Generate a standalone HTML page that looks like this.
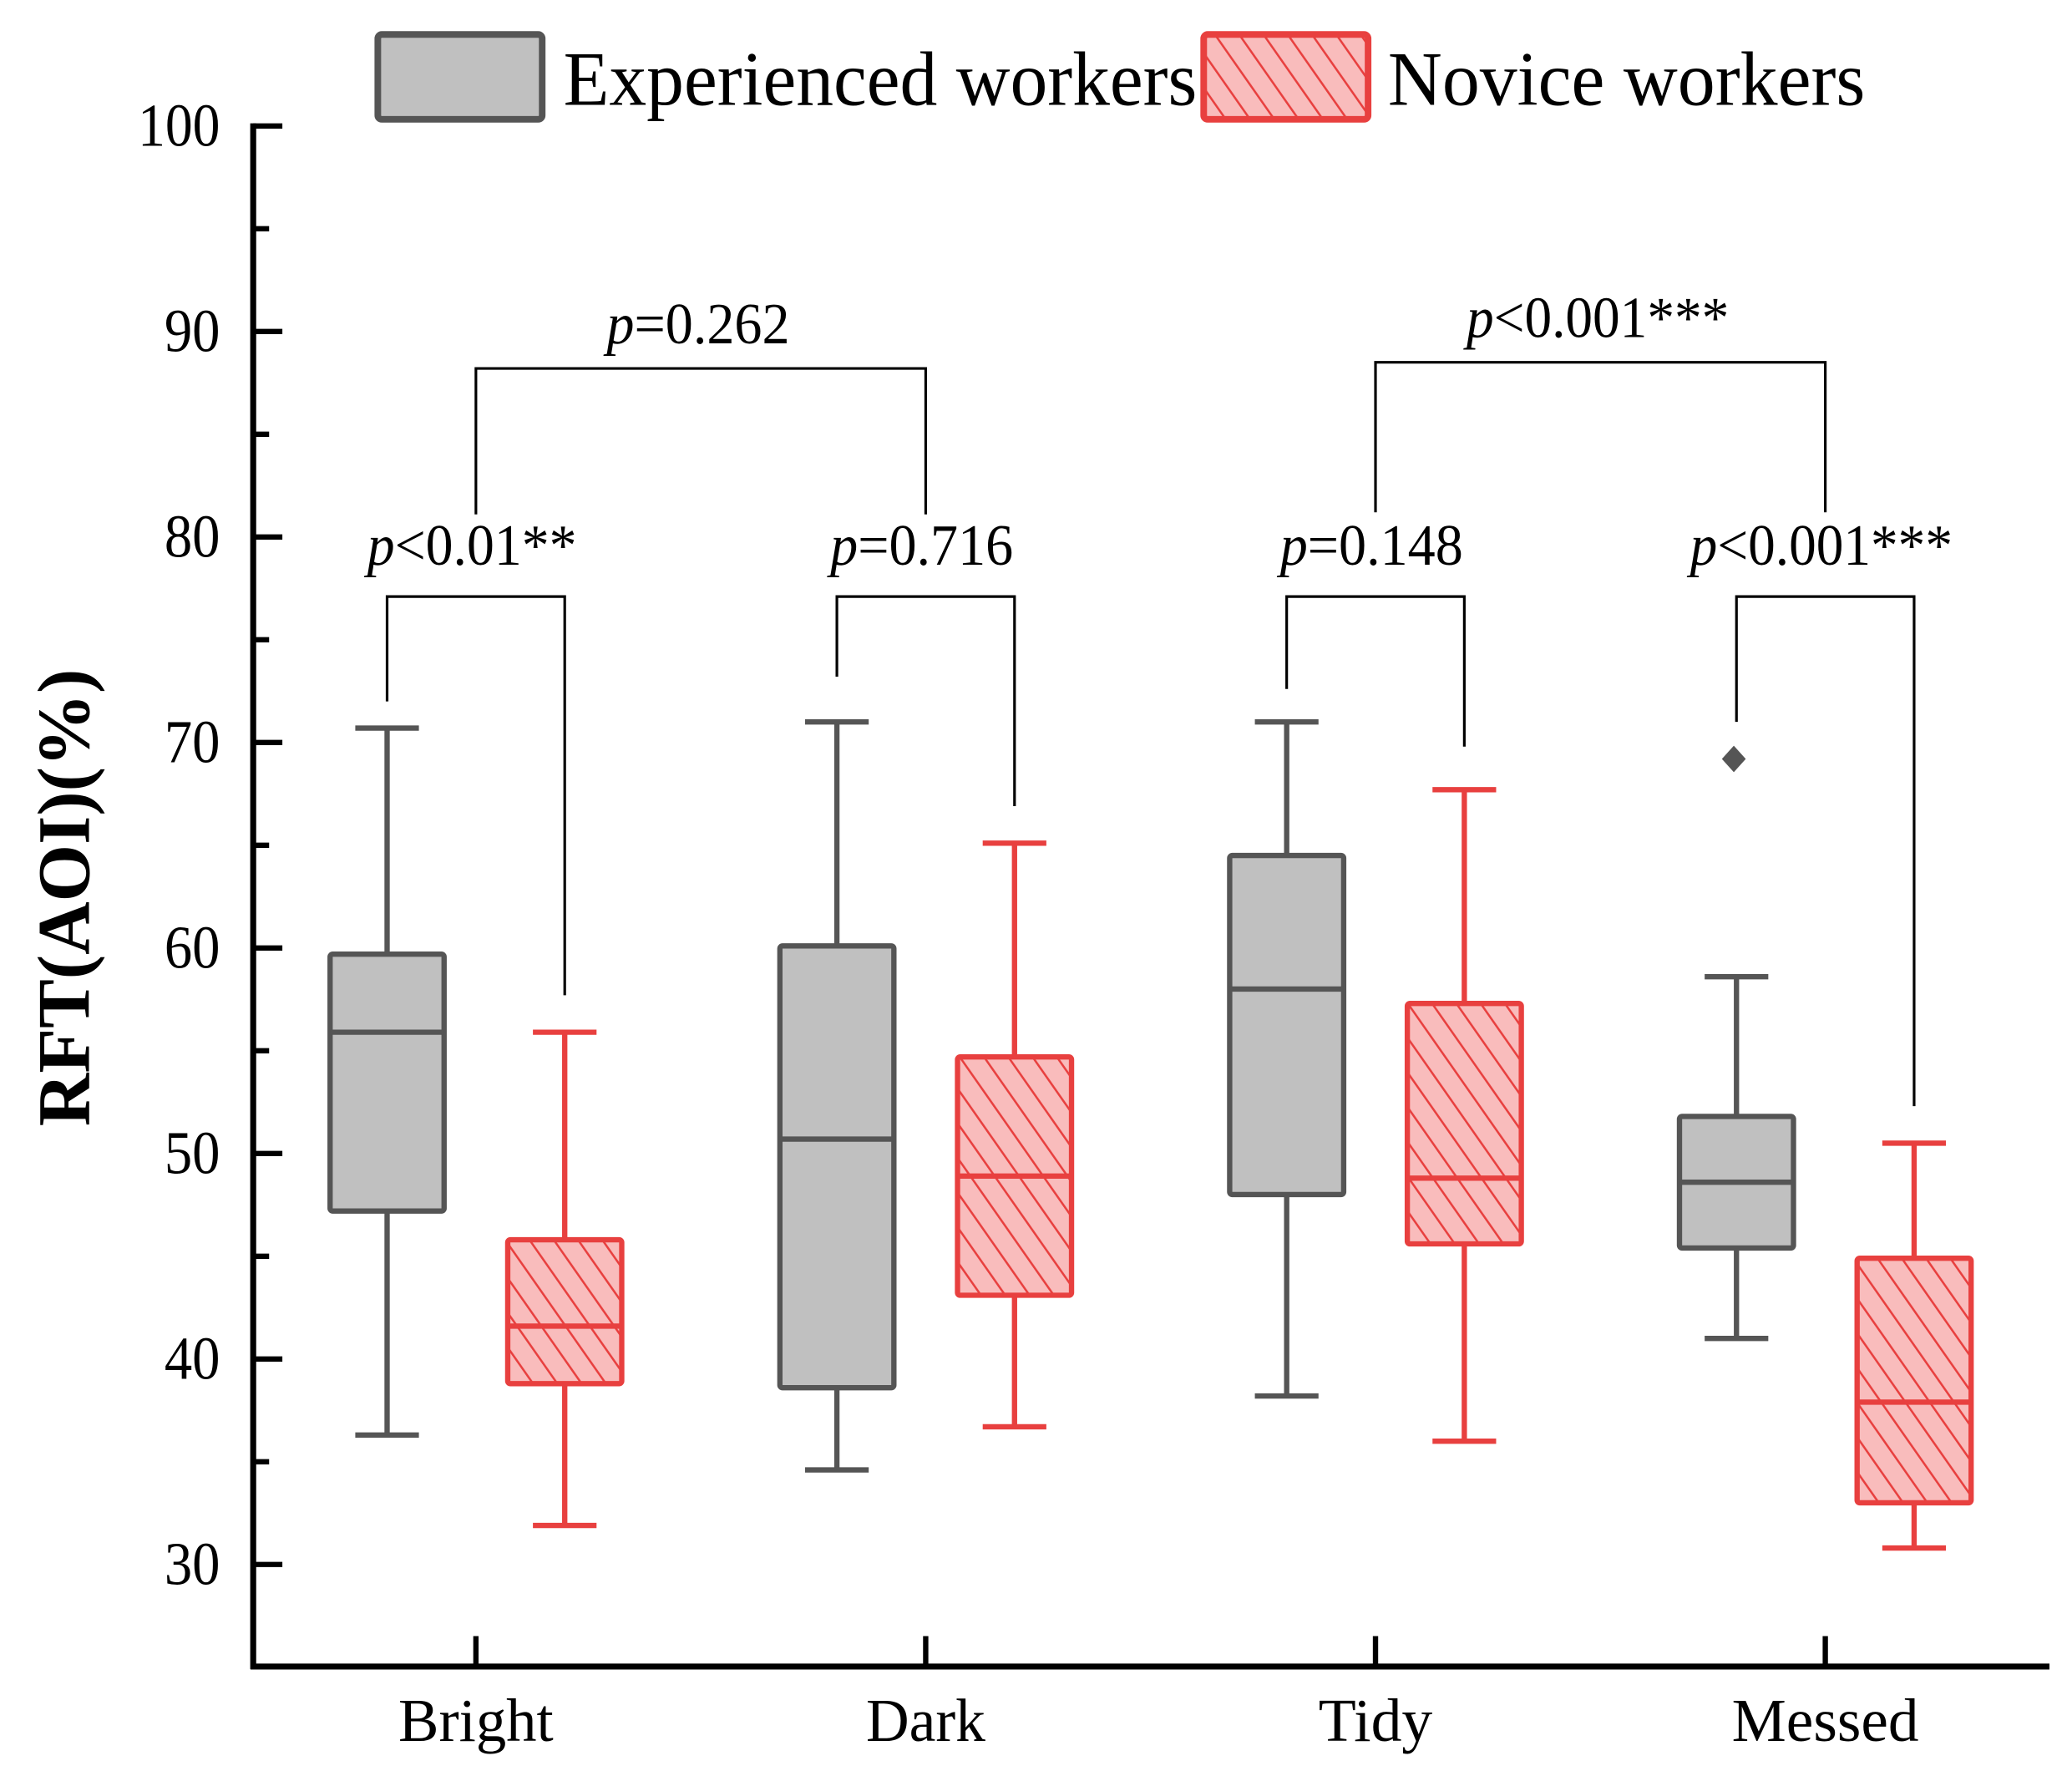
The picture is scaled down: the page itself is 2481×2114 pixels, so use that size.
<!DOCTYPE html>
<html><head><meta charset="utf-8"><style>html,body{margin:0;padding:0;background:#fff}svg{display:block}</style></head>
<body>
<svg id="chart" width="2481" height="2114" viewBox="0 0 1563 1332" preserveAspectRatio="none" xmlns="http://www.w3.org/2000/svg" font-family="'Liberation Serif', serif">
<defs>
<pattern id="hatch" patternUnits="userSpaceOnUse" width="15" height="15" patternTransform="rotate(-35)">
<rect width="15" height="15" fill="#F9BCBC"/>
<line x1="0" y1="0" x2="0" y2="15" stroke="#E8403F" stroke-width="3.2"/>
</pattern>
</defs>
<g id="layer"></g>
</svg>
<script>
const categories = ['Bright','Dark','Tidy','Messed'];
const expMin = [36.3, 34.6, 38.2, 41.0];
const expQ1  = [47.2, 38.6, 48.0, 45.4];
const expMed = [55.9, 50.7, 58.0, 48.6];
const expQ3  = [59.7, 60.1, 64.5, 51.8];
const expMax = [70.7, 71.0, 71.0, 58.6];
const novMin = [31.9, 36.7, 36.0, 30.8];
const novQ1  = [38.8, 43.1, 45.6, 33.0];
const novMed = [41.6, 48.9, 48.8, 37.9];
const novQ3  = [45.8, 54.7, 57.3, 44.9];
const novMax = [55.9, 65.1, 67.7, 50.5];
const outlierCat = [3];
const outlierVal = [69.2];
const yTicks = [30,40,50,60,70,80,90,100];
const pairLabels = ['p<0.01**','p=0.716','p=0.148','p<0.001***'];
const pairLegL = [72.0, 73.2, 72.6, 71.0];
const pairLegR = [57.7, 66.9, 69.8, 52.3];
const pairTop = [77.1, 77.1, 77.1, 77.1];
const groupLabels = ['p=0.262','p<0.001***'];
const groupCats = [[0,1],[2,3]];
const groupTop = [88.2, 88.5];
const groupLeg = [81.1, 81.2];

const NS='http://www.w3.org/2000/svg';
const g=document.getElementById('layer');
const Y=v=>1180-(v-30)*15.5;
const X=i=>359+i*339.3;
function el(t,a,p){const e=document.createElementNS(NS,t);for(const k in a)e.setAttribute(k,a[k]);(p||g).appendChild(e);return e;}

let lg=el('rect',{x:285,y:26,width:124,height:64,rx:3,fill:'#C0C0C0',stroke:'#555',"stroke-width":5});


let lt=el('text',{x:425,y:79,"font-size":58,textLength:478,lengthAdjust:'spacingAndGlyphs'});lt.textContent='Experienced workers';


let lr=el('rect',{x:908,y:26,width:124,height:64,rx:3,fill:'url(#hatch)',stroke:'#E8403F',"stroke-width":5});


let lt2=el('text',{x:1047,y:79,"font-size":58,textLength:360,lengthAdjust:'spacingAndGlyphs'});lt2.textContent='Novice workers';



let ya=el('line',{x1:191,y1:93,x2:191,y2:1259,stroke:'#000',"stroke-width":4.5});


let xa=el('line',{x1:189,y1:1257,x2:1546,y2:1257,stroke:'#000',"stroke-width":4.5});


for(let v=30;v<=100;v+=5){
  const major=v%10===0;
  el('line',{x1:191,x2:major?213:203,y1:Y(v),y2:Y(v),stroke:'#000',"stroke-width":4});
}
yTicks.forEach(v=>{
  const t=el('text',{x:166,y:Y(v)+15,"font-size":46,"text-anchor":'end',textLength:v===100?62:42,lengthAdjust:'spacingAndGlyphs'});
  t.textContent=v;
  
  
});
const catW=[117,90,86,141];
categories.forEach((c,i)=>{
  el('line',{x1:X(i),x2:X(i),y1:1257,y2:1234,stroke:'#000',"stroke-width":4});
  const t=el('text',{x:X(i),y:1313,"font-size":46,"text-anchor":'middle',textLength:catW[i],lengthAdjust:'spacingAndGlyphs'});
  t.textContent=c;
  
  
});
let yt=el('text',{x:0,y:0,"font-size":56,"font-weight":'bold',"text-anchor":'middle',textLength:345,lengthAdjust:'spacingAndGlyphs',transform:'translate(67,677) rotate(-90)'});
yt.textContent='RFT(AOI)(%)';



function box(cx,mn,q1,md,q3,mx,stroke,fill,name){
  const grp=el('g',{});
  
  
  el('line',{x1:cx,x2:cx,y1:Y(mx),y2:Y(q3),stroke,"stroke-width":4},grp);
  el('line',{x1:cx,x2:cx,y1:Y(q1),y2:Y(mn),stroke,"stroke-width":4},grp);
  el('line',{x1:cx-24,x2:cx+24,y1:Y(mx),y2:Y(mx),stroke,"stroke-width":4},grp);
  el('line',{x1:cx-24,x2:cx+24,y1:Y(mn),y2:Y(mn),stroke,"stroke-width":4},grp);
  el('rect',{x:cx-43,y:Y(q3),width:86,height:Y(q1)-Y(q3),rx:2,fill,stroke,"stroke-width":4},grp);
  el('line',{x1:cx-43,x2:cx+43,y1:Y(md),y2:Y(md),stroke,"stroke-width":4},grp);
}
categories.forEach((c,i)=>{
  box(X(i)-67,expMin[i],expQ1[i],expMed[i],expQ3[i],expMax[i],'#555','#C0C0C0','box-experienced-'+c.toLowerCase());
  box(X(i)+67,novMin[i],novQ1[i],novMed[i],novQ3[i],novMax[i],'#E8403F','url(#hatch)','box-novice-'+c.toLowerCase());
});
outlierCat.forEach((c,k)=>{
  const cx=X(c)-69,cy=Y(outlierVal[k]);
  const d=el('polygon',{points:`${cx},${cy-10} ${cx+9},${cy} ${cx},${cy+10} ${cx-9},${cy}`,fill:'#555'});
  
  
});

function ptext(x,y,s,w,name){
  const t=el('text',{x,y,"font-size":44,"text-anchor":'middle',textLength:w,lengthAdjust:'spacingAndGlyphs'});
  const ts=el('tspan',{"font-style":'italic'},t);ts.textContent='p';
  const r=el('tspan',{},t);r.textContent=s.slice(1);
  
  
}
const pairW=[158,138,138,198];
categories.forEach((c,i)=>{
  const l=X(i)-67,r=X(i)+67,ty=Y(pairTop[i]);
  const p=el('path',{d:`M${l},${Y(pairLegL[i])}V${ty}H${r}V${Y(pairLegR[i])}`,fill:'none',stroke:'#000',"stroke-width":2});
  
  
  ptext(X(i)-3,ty-24,pairLabels[i],pairW[i],'pair-p-value');
});
const grpW=[138,198];
groupCats.forEach((gc,k)=>{
  const l=X(gc[0]),r=X(gc[1]),ty=Y(groupTop[k]);
  const p=el('path',{d:`M${l},${Y(groupLeg[k])}V${ty}H${r}V${Y(groupLeg[k])}`,fill:'none',stroke:'#000',"stroke-width":2});
  
  
  ptext((l+r)/2-2,ty-19,groupLabels[k],grpW[k],'group-p-value');
});
</script>
</body></html>
